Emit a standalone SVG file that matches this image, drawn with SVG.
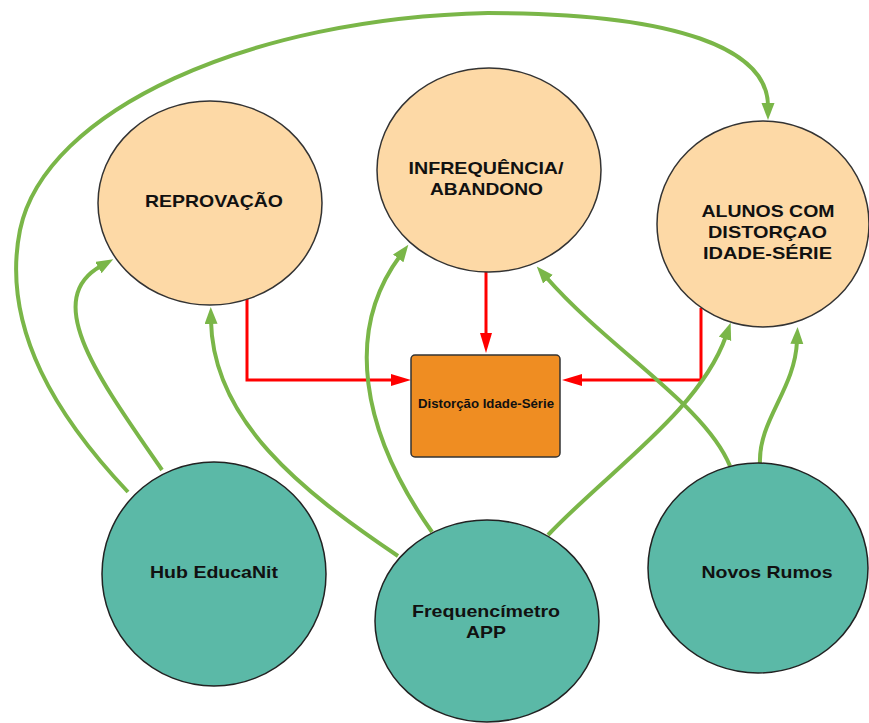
<svg xmlns="http://www.w3.org/2000/svg" width="869" height="723" viewBox="0 0 869 723">
<defs>
<style>
.g{fill:none;stroke:#7ab648;stroke-width:4;marker-end:url(#ga)}
.r{fill:none;stroke:#ff0000;stroke-width:3;marker-end:url(#ra)}
.peach{fill:#fdd9a6;stroke:#333;stroke-width:1.5}
.teal{fill:#5bb9a7;stroke:#222;stroke-width:1.5}
.t{font-family:"Liberation Sans",Arial,sans-serif;font-weight:bold;font-size:17px;fill:#111;text-anchor:middle}
.ts{font-size:12.5px}
</style>
<marker id="ga" markerUnits="userSpaceOnUse" markerWidth="18" markerHeight="14" refX="3" refY="6.5" orient="auto"><path d="M0,0 L17,6.5 L0,13 z" fill="#7ab648"/></marker>
<marker id="ra" markerUnits="userSpaceOnUse" markerWidth="21" markerHeight="13" refX="3" refY="6" orient="auto"><path d="M0,0 L20,6 L0,12 z" fill="#ff0000"/></marker>
</defs>
<rect width="869" height="723" fill="#fff"/>
<g id="connectors">
<path class="r" d="M247,299 V380 H394"/>
<path class="r" d="M486,272 V336"/>
<path class="r" d="M701,308 V380 H579"/>
<path class="g" d="M128,492 C60,420 0,330 20,230 C45,110 250,18 488,13 C680,13 768,50 768,106"/>
<path class="g" d="M162,470 C100,380 40,300 101,266"/>
<path class="g" d="M398,556 C300,490 213,420 211,321"/>
<path class="g" d="M432,532 C360,430 345,330 400,256"/>
<path class="g" d="M730,466 C705,405 610,350 546,277"/>
<path class="g" d="M548,535 C610,470 700,410 726,336"/>
<path class="g" d="M760,464 C758,420 795,390 797,341"/>
</g>
<g id="reprovacao">
<ellipse class="peach" cx="210" cy="203" rx="112" ry="102"/>
<text class="t" x="214" y="207" textLength="138" lengthAdjust="spacingAndGlyphs">REPROVAÇÃO</text>
</g>
<g id="infrequencia">
<ellipse class="peach" cx="489" cy="170" rx="112" ry="102"/>
<text class="t" x="486" y="174" textLength="155" lengthAdjust="spacingAndGlyphs">INFREQUÊNCIA/</text>
<text class="t" x="486.5" y="195" textLength="113" lengthAdjust="spacingAndGlyphs">ABANDONO</text>
</g>
<g id="alunos">
<ellipse class="peach" cx="763" cy="224" rx="106" ry="103"/>
<text class="t" x="768" y="217" textLength="133" lengthAdjust="spacingAndGlyphs">ALUNOS COM</text>
<text class="t" x="767.5" y="238" textLength="119" lengthAdjust="spacingAndGlyphs">DISTORÇAO</text>
<text class="t" x="767.5" y="259" textLength="129" lengthAdjust="spacingAndGlyphs">IDADE-SÉRIE</text>
</g>
<g id="distorcao">
<rect x="411" y="355" width="149" height="102" rx="4" fill="#ef8d22" stroke="#333" stroke-width="1.5"/>
<text class="t ts" x="486" y="408" textLength="136" lengthAdjust="spacingAndGlyphs">Distorção Idade-Série</text>
</g>
<g id="hub">
<ellipse class="teal" cx="214" cy="574" rx="112" ry="112"/>
<text class="t" x="214" y="578" textLength="128" lengthAdjust="spacingAndGlyphs">Hub EducaNit</text>
</g>
<g id="frequencimetro">
<ellipse class="teal" cx="487" cy="621" rx="112" ry="101"/>
<text class="t" x="486" y="617" textLength="148" lengthAdjust="spacingAndGlyphs">Frequencímetro</text>
<text class="t" x="486" y="638" textLength="40" lengthAdjust="spacingAndGlyphs">APP</text>
</g>
<g id="novos">
<ellipse class="teal" cx="758" cy="568" rx="110" ry="105"/>
<text class="t" x="767" y="578" textLength="131" lengthAdjust="spacingAndGlyphs">Novos Rumos</text>
</g>
</svg>
